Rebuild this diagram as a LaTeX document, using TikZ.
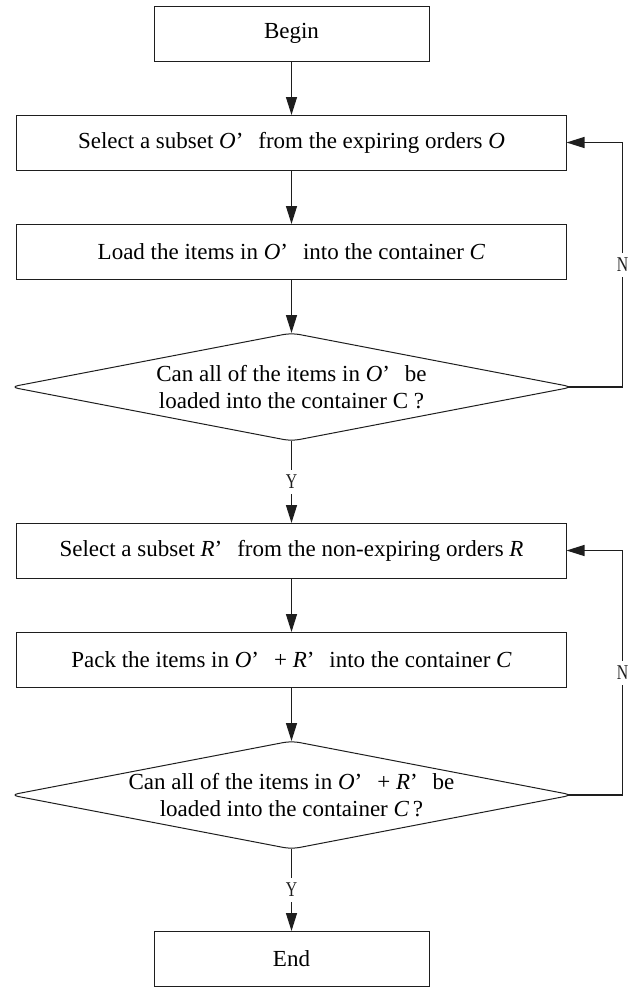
\documentclass[tikz,border=0pt]{standalone}
\usepackage{fontspec}
\setmainfont{Liberation Serif}
\newfontfamily\ynfont[FakeStretch=0.75]{Liberation Serif}
\usetikzlibrary{arrows.meta,positioning,shapes.geometric}
\definecolor{fcink}{HTML}{1E1E1E}
% wide closing quote after a set name
\newcommand{\pq}{’\hspace{0.65em}}

\begin{document}
\begin{tikzpicture}[
  x=1pt, y=1pt,
  font=\fontsize{23}{27}\selectfont,
  node distance=54pt,
  box/.style={draw=fcink, line width=1pt, minimum width=550pt,
              minimum height=55pt, inner sep=0pt, outer sep=0pt},
  term/.style={box, minimum width=275pt},
  decision/.style={diamond, draw=fcink, line width=1pt, minimum width=562pt,
                   minimum height=108pt, inner sep=0pt, outer sep=0pt,
                   rounded corners=8pt},
  arr/.style={-{Triangle[length=18pt,width=11pt]}, fcink, line width=1.3pt},
  yn/.style={fill=white, inner xsep=2pt, inner ysep=5pt,
             font=\ynfont\fontsize{21}{21}\selectfont}
]
  \useasboundingbox (0,0) rectangle (632,-989);

  \node[term] (begin) at (291.5,-33.5) {Begin};
  \node[box, below=of begin] (sel1) {Select a subset \textit{O}\pq from the expiring orders \textit{O}};
  \node[box, below=of sel1] (load) {Load the items in \textit{O}\pq into the container \textit{C}};
  \node[decision, below=of load] (can1) {};
  \node[align=center] (can1txt) at (can1) {Can all of the items in \textit{O}\pq be\\loaded into the container C ?};
  \node[box, below=82pt of can1] (sel2) {Select a subset \textit{R}\pq from the non-expiring orders \textit{R}};
  \node[box, below=of sel2] (pack) {Pack the items in \textit{O}\pq+ \textit{R}\pq into the container \textit{C}};
  \node[decision, below=of pack] (can2) {};
  \node[align=center] (can2txt) at (can2) {Can all of the items in \textit{O}\pq+ \textit{R}\pq be\\loaded into the container \textit{C}\,?};
  \node[term, below=82pt of can2] (stop) {End};

  \draw[arr] (begin) -- (sel1);
  \draw[arr] (sel1) -- (load);
  \draw[arr] (load) -- (can1);
  \draw[arr] (can1) -- node[yn] {Y} (sel2);
  \draw[arr, shorten <=-5pt] (can1.east) -- ++(50,0) |- node[pos=0.25, yn] {N} (sel1.east);

  \draw[arr] (sel2) -- (pack);
  \draw[arr] (pack) -- (can2);
  \draw[arr] (can2) -- node[yn] {Y} (stop);
  \draw[arr, shorten <=-5pt] (can2.east) -- ++(50,0) |- node[pos=0.25, yn] {N} (sel2.east);
\end{tikzpicture}
\end{document}
